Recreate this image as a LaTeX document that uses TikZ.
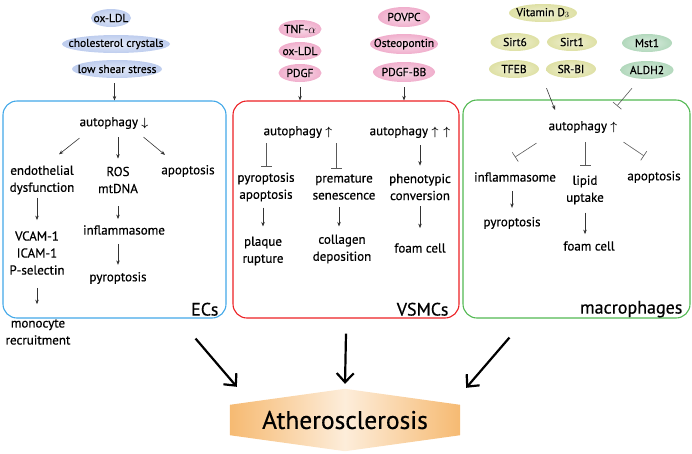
\documentclass[tikz,border=0pt]{standalone}
\usepackage{fontspec}
\setmainfont{PT Sans}[FakeBold=0.5]
\usepackage{amsmath, amssymb}
\usepackage{tikz}
\usetikzlibrary{arrows.meta}
\usetikzlibrary{shapes.geometric}
\usetikzlibrary{calc}
\usetikzlibrary{backgrounds}

\definecolor{ecblue}{RGB}{66,168,232}
\definecolor{vsred}{RGB}{236,32,36}
\definecolor{mggreen}{RGB}{82,184,82}
\definecolor{blobblue}{RGB}{190,205,238}
\definecolor{blobpink}{RGB}{240,174,204}
\definecolor{blobolive}{RGB}{222,224,164}
\definecolor{blobmint}{RGB}{178,216,188}
\definecolor{athorange}{RGB}{246,186,114}
\definecolor{athlight}{RGB}{253,237,218}

\begin{document}
\begin{tikzpicture}[x=1pt, y=-1pt,
        blob_style/.style={ellipse, inner sep=0pt, minimum height=18pt, shade, inner color=#1!45!white, outer color=#1, font=\fontsize{11.5}{13}\selectfont},
        text_style/.style={align=center, inner sep=1pt, font=\fontsize{13}{17}\selectfont},
        panel_style/.style={draw=#1, line width=1.1pt, rounded corners=14pt, inner sep=0pt},
        title_style/.style={anchor=base east, inner sep=0pt, font=\fontsize{18}{20}\selectfont},
        end_gap/.style 2 args={shorten <=#1, shorten >=#2},
        edge_style/.style={draw=black!80, line width=0.6pt, -{Stealth[length=4.5pt,width=3.5pt]}},
        block_style/.style={draw=black!65, line width=0.6pt, -{Bar[width=11pt]}},
        big_edge_style/.style={draw=black, line width=2.2pt, -{Straight Barb[length=9pt,width=17pt]}}]

        \useasboundingbox (0,0) rectangle (692,453);

        % ECs
        \node [blob_style=blobblue, minimum width=40pt] (ecoxldl) at (111,18) {\makebox[0pt]{ox-LDL}};

        \node [blob_style=blobblue, minimum width=108pt] (eccrystal) at (116,44) {\makebox[0pt]{cholesterol crystals}};

        \node [blob_style=blobblue, minimum width=90pt] (ecshear) at (117,69) {\makebox[0pt]{low shear stress}};

        \node [panel_style=ecblue, minimum width=223pt, minimum height=217pt] (ecbox) at (114.5,209.5) {};

        \node [title_style] (ectitle) at ([shift={(-8,-3)}]ecbox.south east) {ECs};

        \node [text_style] (ecauto) at (114,123) {autophagy $\boldsymbol{\downarrow}$};

        \node [text_style] (ecendo) at (42,180) {endothelial\\dysfunction};

        \node [text_style] (ecros) at (118,180) {ROS\\mtDNA};

        \node [text_style] (ecapo) at (188,171) {apoptosis};

        \node [text_style] (ecvcam) at (37,253) {VCAM-1\\ICAM-1\\P-selectin};

        \node [text_style] (ecmono) at (38,332) {monocyte\\recruitment};

        \node [text_style] (ecinfl) at (124,230) {inflammasome};

        \node [text_style] (ecpyro) at (118,278) {pyroptosis};

        \draw [edge_style, end_gap={5pt}{0pt}] (ecshear.south -| ecbox.north) -- (ecbox.north);

        \draw [edge_style] ([shift={(1,8)}]ecauto.south west) -- ([shift={(17,-10)}]ecendo.north);

        \draw [edge_style, end_gap={7pt}{7pt}] (ecros.north |- ecauto.south) -- (ecros.north);

        \draw [edge_style] ([shift={(-6,7)}]ecauto.south east) -- ([shift={(-23,-9)}]ecapo.north);

        \draw [edge_style, end_gap={2pt}{10pt}] (ecvcam.north |- ecendo.south) -- (ecvcam.north);

        \draw [edge_style, end_gap={12pt}{5pt}] (ecros.south) -- (ecros.south |- ecinfl.north);

        \draw [edge_style, end_gap={8pt}{6pt}] (ecros.south |- ecinfl.south) -- (ecros.south |- ecpyro.north);

        \draw [edge_style, end_gap={12pt}{14pt}] (ecvcam.south) -- (ecvcam.south |- ecmono.north);

        % VSMCs
        \node [blob_style=blobpink, minimum width=43pt] (vstnf) at (300,29) {\makebox[0pt]{TNF-$\alpha$}};

        \node [blob_style=blobpink, minimum width=43pt] (vsoxldl) at (300,51) {\makebox[0pt]{ox-LDL}};

        \node [blob_style=blobpink, minimum width=43pt] (vspdgf) at (300,73) {\makebox[0pt]{PDGF}};

        \node [blob_style=blobpink, minimum width=52pt, minimum height=20pt] (vspovpc) at (404,17) {\makebox[0pt]{POVPC}};

        \node [blob_style=blobpink, minimum width=68pt, minimum height=20pt] (vsopn) at (404,44) {\makebox[0pt]{Osteopontin}};

        \node [blob_style=blobpink, minimum width=62pt, minimum height=20pt] (vspdgfbb) at (404,72) {\makebox[0pt]{PDGF-BB}};

        \node [panel_style=vsred, minimum width=226pt, minimum height=217pt] (vsbox) at (346,209.5) {};

        \node [title_style] (vstitle) at ([shift={(-11,-3)}]vsbox.south east) {VSMCs};

        \node [text_style] (vsauto1) at (298,132) {autophagy $\boldsymbol{\uparrow}$};

        \node [text_style] (vsauto2) at (410,132) {autophagy $\boldsymbol{\uparrow}$\hspace{5pt}$\boldsymbol{\uparrow}$};

        \node [text_style] (vspyap) at (266,187) {pyroptosis\\apoptosis};

        \node [text_style] (vsprem) at (344,187) {premature\\senescence};

        \node [text_style] (vsphen) at (420,187) {phenotypic\\conversion};

        \node [text_style] (vsplaque) at (263,251) {plaque\\rupture};

        \node [text_style] (vscoll) at (342,249) {collagen\\deposition};

        \node [text_style] (vsfoam) at (420,248) {foam cell};

        \draw [edge_style, end_gap={5pt}{0pt}] (vspdgf.south) -- (vspdgf.south |- vsbox.north);

        \draw [edge_style, end_gap={5pt}{0pt}] (vspdgfbb.south) -- (vspdgfbb.south |- vsbox.north);

        \draw [block_style, end_gap={4pt}{5pt}] (vspyap.north |- vsauto1.south) -- (vspyap.north);

        \draw [block_style, end_gap={4pt}{5pt}] ([shift={(-8,0)}]vsprem.north |- vsauto1.south) -- ([shift={(-8,0)}]vsprem.north);

        \draw [edge_style, end_gap={6pt}{7pt}] (vsphen.north |- vsauto2.south) -- (vsphen.north);

        \draw [edge_style, end_gap={5pt}{9pt}] (vsplaque.north |- vspyap.south) -- (vsplaque.north);

        \draw [edge_style, end_gap={6pt}{7pt}] ([shift={(-3,0)}]vscoll.north |- vsprem.south) -- ([shift={(-3,0)}]vscoll.north);

        \draw [edge_style, end_gap={5pt}{14pt}] (vsphen.south) -- (vsphen.south |- vsfoam.north);

        % macrophages
        \node [blob_style=blobolive, minimum width=68pt] (mgvitd) at (543,13) {\makebox[0pt]{Vitamin D$_3$}};

        \node [blob_style=blobolive, minimum width=49pt] (mgsirt6) at (515,42) {\makebox[0pt]{Sirt6}};

        \node [blob_style=blobolive, minimum width=50pt] (mgsirt1) at (572,42) {\makebox[0pt]{Sirt1}};

        \node [blob_style=blobolive, minimum width=50pt] (mgtfeb) at (514,69) {\makebox[0pt]{TFEB}};

        \node [blob_style=blobolive, minimum width=50pt] (mgsrbi) at (571,69) {\makebox[0pt]{SR-BI}};

        \node [blob_style=blobmint, minimum width=50pt] (mgmst1) at (647,43) {\makebox[0pt]{Mst1}};

        \node [blob_style=blobmint, minimum width=53pt] (mgaldh2) at (647,70) {\makebox[0pt]{ALDH2}};

        \node [panel_style=mggreen, minimum width=227pt, minimum height=218pt] (mgbox) at (576.5,209) {};

        \node [title_style] (mgtitle) at ([shift={(-8,-5)}]mgbox.south east) {macrophages};

        \node [text_style] (mgauto) at (583,127) {autophagy $\boldsymbol{\uparrow}$};

        \node [text_style] (mginfl) at (515,177) {inflammasome};

        \node [text_style] (mglipid) at (585,190) {lipid\\uptake};

        \node [text_style] (mgapo) at (654,177) {apoptosis};

        \node [text_style] (mgpyro) at (512,223) {pyroptosis};

        \node [text_style] (mgfoam) at (589,246) {foam cell};

        \draw [edge_style] ($(mgtfeb.south)!.5!(mgsrbi.south)+(4,10)$) -- ([shift={(-28,-10)}]mgauto.north);

        \draw [block_style] ([shift={(-15,9)}]mgaldh2.south) -- ([shift={(34,-14)}]mgauto.north);

        \draw [block_style] ([shift={(-11,9)}]mgauto.south west) -- ([shift={(0,-14)}]mginfl.north);

        \draw [block_style, end_gap={8pt}{9pt}] (mglipid.north |- mgauto.south) -- (mglipid.north);

        \draw [block_style] ([shift={(5,8)}]mgauto.south east) -- ([shift={(-10,-14)}]mgapo.north);

        \draw [edge_style, end_gap={8pt}{8pt}] (mgpyro.north |- mginfl.south) -- (mgpyro.north);

        \draw [edge_style, end_gap={7pt}{6pt}] (mglipid.south) -- (mglipid.south |- mgfoam.north);

        % atherosclerosis
        \node [minimum width=230pt, minimum height=30pt, inner sep=0pt, font=\fontsize{25.5}{28}\selectfont] (ath) at (345,420) {Atherosclerosis};

        \begin{scope}[on background layer]
        \shade [left color=athorange, right color=athorange, middle color=athlight] (ath.north west) -- ([shift={(0,-16)}]ath.north) -- (ath.north east) -- (ath.south east) -- ([shift={(0,16)}]ath.south) -- (ath.south west) -- cycle;
        \end{scope}

        \draw [big_edge_style] ([shift={(-31,20)}]ecbox.south east) -- ([shift={(7,-18)}]ath.north west);

        \draw [big_edge_style] ([shift={(0,15)}]vsbox.south) -- ([shift={(0,-21)}]ath.north);

        \draw [big_edge_style] ([shift={(47,19)}]mgbox.south west) -- ([shift={(6,-17)}]ath.north east);

        \end{tikzpicture}
\end{document}
